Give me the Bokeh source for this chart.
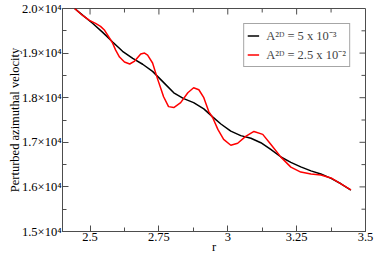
import math
from bokeh.plotting import figure
from bokeh.models import Range1d, Legend, LegendItem, FixedTicker
from bokeh.embed import file_html
from bokeh.resources import INLINE

# ---- data ----
r_black = [2.444, 2.473, 2.509, 2.545, 2.582, 2.618, 2.655, 2.691, 2.727, 2.764,
           2.804, 2.840, 2.876, 2.913, 2.945, 2.975, 3.011, 3.047, 3.084, 3.120,
           3.156, 3.193, 3.229, 3.265, 3.302, 3.338, 3.375, 3.411, 3.447]
v_black = [20000, 19850, 19670, 19470, 19250, 19040, 18880, 18750, 18590, 18360,
           18110, 17980, 17890, 17750, 17570, 17410, 17250, 17150, 17090, 16990,
           16840, 16670, 16550, 16450, 16360, 16290, 16190, 16070, 15930]

r_red = [2.444, 2.473, 2.498, 2.520, 2.538, 2.553, 2.571, 2.582, 2.593, 2.607,
         2.625, 2.644, 2.662, 2.684, 2.698, 2.709, 2.727, 2.745, 2.756, 2.767,
         2.785, 2.804, 2.829, 2.855, 2.876, 2.895, 2.913, 2.931, 2.945, 2.964,
         2.985, 3.011, 3.036, 3.065, 3.095, 3.127, 3.156, 3.193, 3.229, 3.265,
         3.302, 3.338, 3.375, 3.411, 3.447]
v_red = [20000, 19844, 19733, 19667, 19600, 19511, 19333, 19222, 19067, 18911,
         18800, 18756, 18822, 18978, 19000, 18956, 18778, 18422, 18222, 18022,
         17800, 17778, 17889, 18111, 18222, 18178, 18000, 17689, 17556, 17289,
         17067, 16933, 16978, 17133, 17244, 17178, 16956, 16667, 16444, 16333,
         16289, 16267, 16200, 16067, 15933]

x_ticks = [2.5, 2.75, 3.0, 3.25, 3.5]
x_tick_labels = ["2.5", "2.75", "3", "3.25", "3.5"]
x_minor = [2.625, 2.875, 3.125, 3.375]
y_ticks = [15000, 16000, 17000, 18000, 19000, 20000]
y_tick_labels = ["1.5×10⁴", "1.6×10⁴", "1.7×10⁴", "1.8×10⁴", "1.9×10⁴", "2.0×10⁴"]
y_minor = [15500, 16500, 17500, 18500, 19500]
legend_labels = ["A²ᴰ = 5 x 10⁻³", "A²ᴰ = 2.5 x 10⁻²"]
x_title = "r"
y_title = "Perturbed azimuthal velocity"

X_LO, X_HI = 2.4, 3.5
Y_LO, Y_HI = 15000, 20000

FONT = "Liberation Serif"
AX = "#4d4d4d"

p = figure(width=374, height=256, x_range=Range1d(X_LO, X_HI), y_range=Range1d(Y_LO, Y_HI),
           output_backend="svg", toolbar_location=None,
           min_border_left=62, min_border_right=9, min_border_top=8, min_border_bottom=23)
p.xgrid.visible = False
p.ygrid.visible = False
p.outline_line_color = AX
p.outline_line_width = 1
p.background_fill_color = "white"
p.border_fill_color = "white"

p.xaxis.ticker = FixedTicker(ticks=x_ticks, minor_ticks=x_minor)
p.yaxis.ticker = FixedTicker(ticks=y_ticks, minor_ticks=y_minor)
p.xaxis.major_label_overrides = dict(zip(x_ticks, x_tick_labels))
p.yaxis.major_label_overrides = dict(zip(y_ticks, y_tick_labels))
p.xaxis.axis_label = x_title
p.yaxis.axis_label = y_title
for ax in p.xaxis + p.yaxis:
    ax.major_tick_in = 6
    ax.major_tick_out = 0
    ax.minor_tick_in = 4
    ax.minor_tick_out = 0
    ax.axis_line_color = AX
    ax.major_tick_line_color = AX
    ax.minor_tick_line_color = AX
    ax.major_label_text_font = FONT
    ax.major_label_text_font_size = "12.5px"
    ax.major_label_text_color = "black"
    ax.axis_label_text_font = FONT
    ax.axis_label_text_font_size = "12.5px"
    ax.axis_label_text_font_style = "normal"
    ax.axis_label_text_color = "black"
p.xaxis.major_label_standoff = 1
p.xaxis.axis_label_standoff = -4
p.yaxis.major_label_standoff = 1
p.yaxis.axis_label_standoff = -3

# ---- mirrored tick marks on top and right (inward; outer half clipped by the frame) ----
xt = [t for t in x_ticks if X_LO < t < X_HI]
yt = [t for t in y_ticks if Y_LO < t < Y_HI]
p.scatter(xt, [Y_HI] * len(xt), marker="dash", size=12, angle=math.pi / 2,
          line_color=AX, line_width=1)
p.scatter(x_minor, [Y_HI] * len(x_minor), marker="dash", size=8, angle=math.pi / 2,
          line_color=AX, line_width=1)
p.scatter([X_HI] * len(yt), yt, marker="dash", size=12, line_color=AX, line_width=1)
p.scatter([X_HI] * len(y_minor), y_minor, marker="dash", size=8, line_color=AX, line_width=1)

# ---- data lines ----
lb = p.line(r_black, v_black, line_color="black", line_width=1.5)
lr = p.line(r_red, v_red, line_color="#ff0000", line_width=1.5)

# ---- legend ----
leg = Legend(items=[LegendItem(label=legend_labels[0], renderers=[lb]),
                    LegendItem(label=legend_labels[1], renderers=[lr])],
             location="top_right")
leg.margin = 15
leg.padding = 3
leg.spacing = 2
leg.glyph_width = 12
leg.glyph_height = 15
leg.label_height = 15
leg.label_standoff = 7
leg.label_text_font = FONT
leg.label_text_font_size = "12.5px"
leg.border_line_color = AX
leg.border_line_width = 1
leg.background_fill_alpha = 1
p.add_layout(leg)

open("out.html", "w").write(file_html(p, INLINE))
